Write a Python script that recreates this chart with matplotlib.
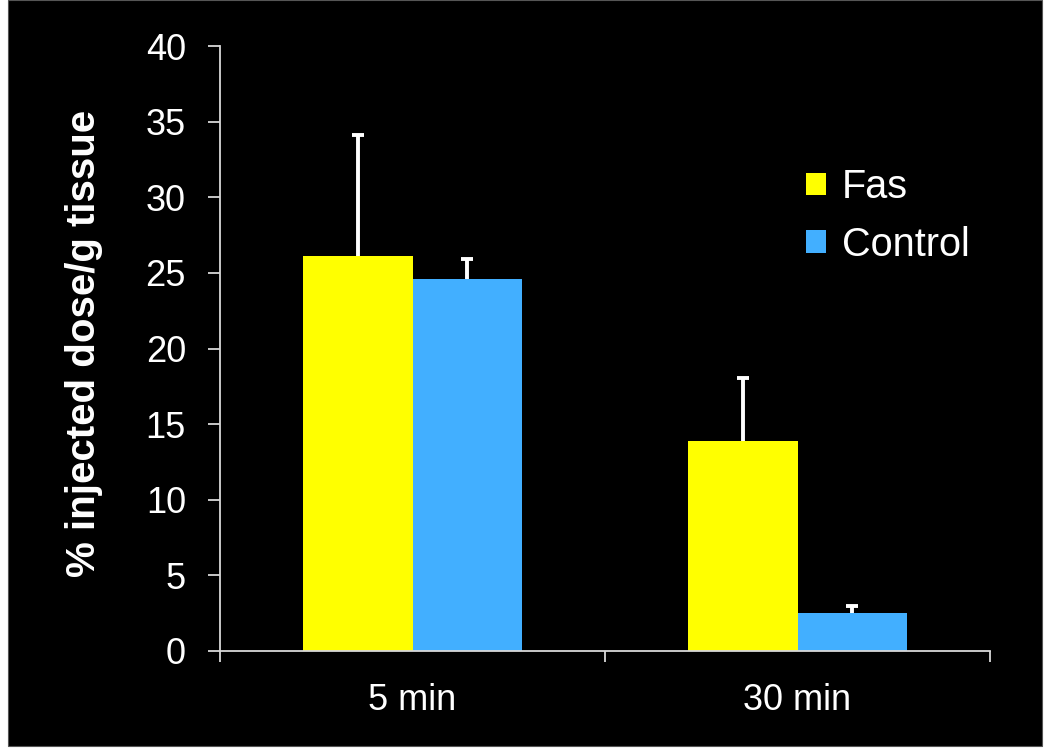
import matplotlib
matplotlib.use("Agg")
import matplotlib.pyplot as plt
from matplotlib.patches import Rectangle
import numpy as np

categories = ["5 min", "30 min"]
series_names = ["Fas", "Control"]
fas_values = [26.1, 13.9]
control_values = [24.6, 2.5]
fas_err = [8.0, 4.15]
control_err = [1.35, 0.46]
y_ticks = [0, 5, 10, 15, 20, 25, 30, 35, 40]

plt.rcParams['font.family'] = ['Liberation Sans', 'DejaVu Sans']

fig = plt.figure(figsize=(10.5, 7.53), dpi=100, facecolor='white')
fig.patches.append(Rectangle((8/1050, 7/753), (1042-8)/1050, 1 - 7/753,
                             transform=fig.transFigure, facecolor='black',
                             edgecolor='#555555', linewidth=0.8, zorder=-10))

ax = fig.add_axes([220/1050, 1 - 651/753, (990-220)/1050, (651-46)/753])
ax.set_facecolor('black')

x = np.arange(len(categories))
w = 0.285
fas_color = '#FFFF00'
ctl_color = '#42AFFF'
err_kw = dict(fmt='none', ecolor='white', elinewidth=2.8, capsize=4.5,
              capthick=2.8, zorder=1)

ax.bar(x - w/2, fas_values, w, color=fas_color, label=series_names[0], zorder=2)
ax.bar(x + w/2, control_values, w, color=ctl_color, label=series_names[1], zorder=2)
ax.errorbar(x - w/2, fas_values, yerr=fas_err, **err_kw)
ax.errorbar(x + w/2, control_values, yerr=control_err, **err_kw)

ax.set_xlim(-0.5, len(categories) - 0.5)
ax.set_ylim(0, 40)
ax.set_yticks(y_ticks)
ax.set_yticklabels([str(t) for t in y_ticks])

ax.set_xticks(x)
ax.set_xticklabels(categories)
ax.set_xticks(np.arange(-0.5, len(categories)), minor=True)
ax.tick_params(axis='x', which='major', length=0, pad=23, labelsize=26, colors='white')
ax.tick_params(axis='x', which='minor', length=8, width=1.3, color='#d9d9d9', direction='out')
ax.tick_params(axis='y', which='major', length=8.5, width=1.3, color='#d9d9d9',
               pad=16, labelsize=26, labelcolor='white', direction='out')

for s in ['top', 'right']:
    ax.spines[s].set_visible(False)
for s in ['left', 'bottom']:
    ax.spines[s].set_color('#d9d9d9')
    ax.spines[s].set_linewidth(1.3)

ax.set_ylabel('% injected dose/g tissue', fontsize=29, fontweight='bold',
              color='white')
ax.yaxis.set_label_coords((103 - 220) / 770, (651 - 343) / 605)

leg = ax.legend(loc='upper left', bbox_to_anchor=(806/1050, 1 - 168/753),
                bbox_transform=fig.transFigure, frameon=False, fontsize=28.5,
                handlelength=0.5, handleheight=0.5, handletextpad=0.4,
                labelspacing=0.5, borderpad=0, borderaxespad=0)
for t in leg.get_texts():
    t.set_color('white')

fig.savefig('out.png', dpi=100, facecolor=fig.get_facecolor())
